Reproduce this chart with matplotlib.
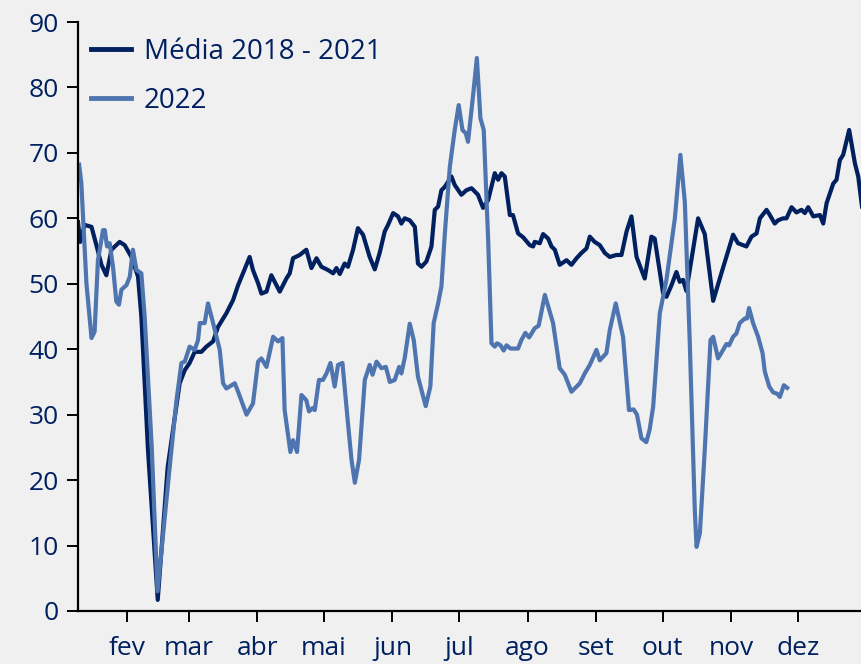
import matplotlib.pyplot as plt

# dia do ano (0 = 1 jan) e valores
dias_media = [9, 10, 12, 15.1, 17.3, 19.6, 21.8, 24.1, 27.8, 30.1, 33.1, 36.1, 37.6, 39.1, 40.6,
              45, 49.5, 54.9, 57.2, 59.4, 61.7, 64.7, 67, 70, 72.2, 76, 79, 81.3, 83.5, 86.5,
              88, 90.3, 91.8, 94.1, 96.3, 100.1, 103.1, 104.6, 106.1, 109.1, 112.1, 114.4,
              116.7, 118.9, 121.9, 124.2, 125.7, 127.2, 129.4, 130.9, 133.2, 135.4, 137.7,
              140.7, 143, 145.2, 147.5, 149, 151.3, 153.5, 155, 156.5, 158.8, 161.1, 162.5,
              164.1, 166.3, 168.6, 170.1, 171.6, 173.1, 174.6, 177.6, 179.1, 182.1, 184.4,
              186.7, 189.6, 191.9, 194.2, 197.2, 198.7, 200.2, 201.7, 204, 205.4, 207.7, 210,
              213, 214.5, 215.2, 217.5, 219, 221.3, 222.8, 224.3, 226.5, 229.6, 231.8, 234.1,
              236.3, 238.6, 240.1, 242.3, 244.6, 246.9, 249.1, 252.1, 254.4, 256.7, 258.9,
              261.2, 264.9, 267.9, 269.4, 273.2, 274.7, 277, 279.2, 280.7, 282.2, 283.7,
              286.7, 289, 292, 295.8, 299.5, 304.8, 307, 310.8, 313.1, 315.4, 316.9, 319.9,
              321.4, 323.6, 325.1, 327.4, 328.9, 331.2, 333.4, 335.7, 337.2, 338.7, 341, 344,
              345.5, 347, 350, 351.5, 353, 354.5, 357.2, 359.8, 361.3, 363]
media = [59.4, 56.4, 59, 58.7, 55.9, 52.9, 51.3, 55.2, 56.4, 55.9, 54.1, 51.1, 45, 34.8, 24.6,
         1.7, 22, 34.8, 36.8, 37.9, 39.6, 39.6, 40.4, 41.2, 43.4, 45.5, 47.5, 49.8, 51.6, 54.1,
         52.1, 50.1, 48.5, 48.8, 51.3, 48.8, 50.8, 51.6, 53.9, 54.4, 55.2, 52.4,
         53.9, 52.6, 52.1, 51.6, 52.4, 51.5, 53.1, 52.6, 55.2, 58.5, 57.5,
         54.1, 52.2, 54.7, 58, 59, 60.8, 60.3, 59.2, 60, 59.7, 58.7, 53.1,
         52.6, 53.4, 55.7, 61.3, 61.8, 64.3, 64.8, 66.4, 65.1, 63.6, 64.3,
         64.6, 63.6, 61.6, 62.8, 66.9, 65.9, 66.9, 66.4, 60.5, 60.5, 57.7, 57.1,
         55.9, 55.7, 56.4, 56.2, 57.6, 56.9, 55.7, 55.2, 52.9, 53.6, 52.9, 53.9,
         54.7, 55.4, 57.2, 56.4, 55.9, 54.7, 54.1, 54.4, 54.4, 58, 60.3,
         54.1, 50.8, 57.2, 56.9, 48.5, 48, 49.8, 51.8, 50.3, 50.6, 48.9,
         55.2, 60, 57.6, 47.4, 51.6, 57.5, 56.2, 55.7, 57.2, 57.7, 60, 61.3,
         60.5, 59.2, 59.7, 60, 60, 61.7, 60.9, 61.3, 60.8, 61.7, 60.3, 60.5,
         59.2, 62.3, 65.3, 65.9, 68.9, 69.7, 73.5, 68.4, 66.4, 61.8]

dias_2022 = [9.5, 10.5, 12.8, 15.1, 16.5, 18, 20.3, 21.1, 22.1, 23.3, 24.8, 26.3, 27.5, 28.6,
             30.9, 32.4, 33.8, 35.4, 37.6, 39.1, 42.3, 44.9, 50.4, 53.4, 55.7, 57.2, 59.4,
             61.7, 63.2, 64, 66.2, 67.7, 70, 73, 74.5, 76, 79.8, 81.3, 85.1, 88, 90.3, 91.8,
             94.1, 97.1, 99.3, 101.3, 102.3, 104.9, 106.1, 107.9, 109.9, 112.1, 113.3, 114.9,
             115.9, 117.8, 119.6, 121.2, 123, 124.9, 126.4, 128.4, 130.9, 132.5, 134, 135.9,
             138.5, 140.7, 142, 143.8, 146, 148, 149.8, 152, 154, 155, 156.5, 158.8, 160.6,
             162.5, 166, 168.1, 169.6, 171.6, 173.1, 174.6, 176.9, 179.1, 180.9, 182.6, 184.1,
             185.1, 187.4, 189.1, 190.7, 192.2, 194.2, 195.7, 197.2, 198.2, 199.8, 201.2,
             202.5, 204.3, 207.7, 209.2, 211, 212.7, 215.2, 217, 219.8, 223.5, 226.5, 228.8,
             231.8, 235.6, 237.8, 240.1, 243.1, 244.6, 247.6, 249.1, 251.8, 255.1, 257.8,
             259.9, 261.4, 263.4, 265.6, 267.1, 268.7, 271.7, 274.7, 278.5, 281, 283, 285.2,
             287.5, 288.3, 289.8, 292, 294.6, 295.8, 298, 300.3, 301.8, 303, 304.8, 306.3,
             307.8, 310.1, 311.1, 312, 313.8, 316.1, 318.1, 319.1, 321.1, 322.9, 324.7,
             325.9, 327.7, 329.2]
valores_2022 = [68.2, 65.4, 50.1, 41.7, 42.7, 53.6, 58.2, 58.2, 55.7, 56.2, 52.6, 47.3, 46.8, 49.1,
                49.8, 51.1, 55.2, 52.1, 51.6, 45, 25, 3, 22, 32, 37.9, 38.1, 40.4,
                39.9, 41.4, 44, 44, 47, 44, 39.9, 34.8, 34, 34.8, 33.5, 30, 31.7, 38.1, 38.6,
                37.3, 41.9, 41.2, 41.7, 30.7, 24.3, 26.1, 24.3, 33, 32.2, 30.5, 31,
                30.7, 35.3, 35.3, 36.3, 37.9, 34.3, 37.6, 37.9, 28.7, 23.1, 19.6, 23.1,
                35.3, 37.6, 36.1, 38.1, 37.1, 37.3, 35, 35.3, 37.3, 36.3, 38.6, 43.9, 41.4,
                35.8, 31.3, 34.3, 44, 47, 49.6, 57.5, 67.9, 73.5, 77.3, 73.5, 73,
                71.7, 78.8, 84.5, 75.3, 73.5, 56.7, 40.9, 40.4, 40.9, 40.6, 39.8,
                40.6, 40.1, 40.1, 41.4, 42.5, 41.8, 43.2, 43.6, 48.3, 44, 37.1, 36.1,
                33.5, 34.8, 36.3, 37.6, 39.9, 38.3, 39.4, 42.9, 47, 41.9, 30.7,
                30.8, 30, 26.4, 25.8, 27.7, 31.2, 45.5, 50.6, 60, 69.7, 62.5, 41.4,
                15.4, 9.8, 11.9, 24.6, 41.4, 41.9, 38.6, 39.9, 40.8, 40.6, 41.9, 42.4,
                44, 44.7, 44.7, 46.3, 44, 41.9, 39.4, 36.6, 34.3, 33.4, 33.2,
                32.7, 34.5, 34.1]

meses = ['fev', 'mar', 'abr', 'mai', 'jun', 'jul', 'ago', 'set', 'out', 'nov', 'dez']
inicio_mes = [31, 59, 90, 120, 151, 181, 212, 243, 273, 304, 334]

azul_escuro = '#002060'
azul_claro = '#4f75b0'
fundo = '#f0f0f0'

plt.rcParams['font.family'] = ['Open Sans', 'DejaVu Sans']

fig = plt.figure(figsize=(8.62, 6.64), dpi=100, facecolor=fundo)
ax = fig.add_axes([78 / 862, 53 / 664, 1 - 78 / 862, (611 - 22) / 664])
ax.set_facecolor(fundo)

ax.plot(dias_media, media, color=azul_escuro, lw=3, label='Média 2018 - 2021', solid_joinstyle='round')
ax.plot(dias_2022, valores_2022, color=azul_claro, lw=3, label='2022', solid_joinstyle='round')

ax.set_xlim(9, 363)
ax.set_ylim(0, 90)
ax.set_yticks(range(0, 91, 10))
ax.set_xticks(inicio_mes)
ax.set_xticklabels(meses)

for lado in ['top', 'right']:
    ax.spines[lado].set_visible(False)
for lado in ['left', 'bottom']:
    ax.spines[lado].set_linewidth(1.6)
    ax.spines[lado].set_color('black')

ax.tick_params(axis='both', direction='out', length=8, width=1.4, color='black',
               labelsize=19, labelcolor=azul_escuro)
ax.tick_params(axis='y', pad=6)
ax.tick_params(axis='x', pad=10)

leg = ax.legend(loc='upper left', bbox_to_anchor=(0.016, 0.973), frameon=False,
                fontsize=20, handlelength=1.45, handletextpad=0.47, labelspacing=0.75,
                borderpad=0, borderaxespad=0)
for t in leg.get_texts():
    t.set_color(azul_escuro)
for linha in leg.get_lines():
    linha.set_linewidth(3.5)

fig.savefig('out.png', dpi=100, facecolor=fundo)
